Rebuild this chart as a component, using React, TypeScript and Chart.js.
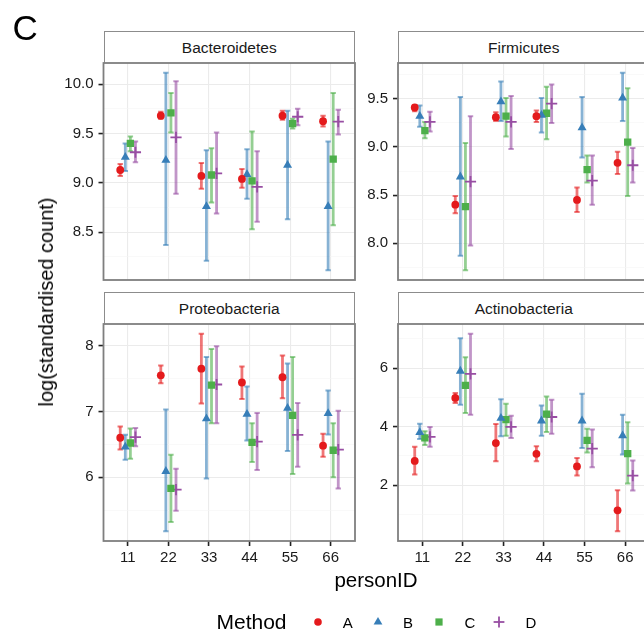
import React, { useEffect, useRef } from 'react';
import { Chart, registerables } from 'chart.js';

Chart.register(...registerables);

const FONT = '"Liberation Sans", Arial, Helvetica, sans-serif';

// ---------- data ----------
const personIDs = [11, 22, 33, 44, 55, 66];
const methods = ['A', 'B', 'C', 'D'];
const methodColors = ['#E41A1C', '#377EB8', '#4DAF4A', '#984EA3'];
const methodBarColors = ['rgba(228,26,28,0.6)', 'rgba(55,126,184,0.6)', 'rgba(77,175,74,0.6)', 'rgba(152,78,163,0.6)'];
const methodShapes = ['circle', 'triangle', 'rect', 'cross'];

// each entry: [estimate, lower, upper] for personIDs 11..66
const bacteroidetesA = [[9.13, 9.07, 9.19], [9.68, 9.65, 9.72], [9.07, 8.94, 9.2], [9.04, 8.95, 9.14], [9.68, 9.64, 9.73], [9.625, 9.57, 9.68]];
const bacteroidetesB = [[9.26, 9.12, 9.4], [9.23, 8.37, 10.115], [8.76, 8.21, 9.33], [9.085, 8.84, 9.34], [9.18, 8.63, 9.73], [8.76, 8.115, 9.42]];
const bacteroidetesC = [[9.4, 9.32, 9.47], [9.71, 9.51, 9.91], [9.08, 8.8, 9.35], [9.02, 8.53, 9.52], [9.6, 9.55, 9.65], [9.24, 8.57, 9.91]];
const bacteroidetesD = [[9.31, 9.21, 9.42], [9.46, 8.89, 10.03], [9.095, 8.69, 9.51], [8.96, 8.605, 9.32], [9.67, 9.585, 9.75], [9.62, 9.49, 9.74]];

const firmicutesA = [[9.41, 9.37, 9.43], [8.4, 8.31, 8.49], [9.31, 9.27, 9.36], [9.32, 9.26, 9.38], [8.45, 8.325, 8.58], [8.835, 8.72, 8.95]];
const firmicutesB = [[9.32, 9.21, 9.43], [8.69, 7.87, 9.52], [9.47, 9.27, 9.68], [9.33, 9.15, 9.51], [9.2, 8.89, 9.52], [9.51, 9.27, 9.77]];
const firmicutesC = [[9.17, 9.09, 9.26], [8.38, 7.72, 9.04], [9.32, 9.11, 9.51], [9.35, 9.08, 9.625], [8.765, 8.63, 8.91], [9.05, 8.49, 9.61]];
const firmicutesD = [[9.26, 9.16, 9.365], [8.64, 7.975, 9.32], [9.26, 8.98, 9.53], [9.45, 9.25, 9.65], [8.65, 8.4, 8.91], [8.81, 8.63, 8.99]];

const proteobacteriaA = [[6.6, 6.42, 6.77], [7.55, 7.43, 7.7], [7.65, 7.12, 8.18], [7.44, 7.19, 7.685], [7.52, 7.2, 7.85], [6.48, 6.31, 6.66]];
const proteobacteriaB = [[6.46, 6.265, 6.645], [6.09, 5.18, 7.03], [6.89, 5.98, 7.83], [6.96, 6.56, 7.38], [7.05, 6.4, 7.73], [6.97, 6.65, 7.32]];
const proteobacteriaC = [[6.52, 6.28, 6.74], [5.83, 5.32, 6.34], [7.4, 6.82, 7.95], [6.53, 6.23, 6.82], [6.94, 6.05, 7.83], [6.41, 6.0, 6.82]];
const proteobacteriaD = [[6.61, 6.47, 6.75], [5.81, 5.49, 6.13], [7.41, 6.82, 7.99], [6.54, 6.11, 6.975], [6.645, 6.16, 7.13], [6.42, 5.83, 7.01]];

const actinobacteriaA = [[2.83, 2.365, 3.31], [4.98, 4.81, 5.15], [3.44, 2.82, 4.09], [3.07, 2.82, 3.33], [2.64, 2.33, 2.93], [1.14, 0.43, 1.83]];
const actinobacteriaB = [[3.8, 3.58, 4.1], [5.9, 4.75, 7.02], [4.29, 3.67, 4.94], [4.2, 3.69, 4.72], [4.2, 3.27, 5.12], [3.69, 3.05, 4.41]];
const actinobacteriaC = [[3.615, 3.37, 3.84], [5.41, 4.47, 6.375], [4.24, 3.69, 4.78], [4.43, 3.82, 5.03], [3.53, 3.12, 3.93], [3.08, 2.06, 4.15]];
const actinobacteriaD = [[3.65, 3.31, 3.99], [5.8, 4.41, 7.17], [3.99, 3.615, 4.375], [4.33, 3.76, 4.92], [3.25, 2.61, 3.9], [2.33, 1.82, 2.84]];

const bacteroidetesTicks = [8.5, 9.0, 9.5, 10.0];
const firmicutesTicks = [8.0, 8.5, 9.0, 9.5];
const proteobacteriaTicks = [6, 7, 8];
const actinobacteriaTicks = [2, 4, 6];

// ---------- layout ----------
const CANVAS_W = 700;
const CANVAS_H = 632;
const Y_AXIS_W = 60;
const X_AXIS_H = 30;
const DODGE = 0.5; // in category units
const CAT_STEP = 11;

type PanelCfg = {
  name: string;
  series: number[][][];
  ticks: number[];
  decimals: number;
  left: number;
  right: number;
  top: number;
  bottom: number;
  showX: boolean;
};

const panels: PanelCfg[] = [
  { name: 'Bacteroidetes', series: [bacteroidetesA, bacteroidetesB, bacteroidetesC, bacteroidetesD], ticks: bacteroidetesTicks, decimals: 1, left: 103.5, right: 355, top: 63, bottom: 280, showX: false },
  { name: 'Firmicutes', series: [firmicutesA, firmicutesB, firmicutesC, firmicutesD], ticks: firmicutesTicks, decimals: 1, left: 398, right: 649.5, top: 63, bottom: 280, showX: false },
  { name: 'Proteobacteria', series: [proteobacteriaA, proteobacteriaB, proteobacteriaC, proteobacteriaD], ticks: proteobacteriaTicks, decimals: 0, left: 103.5, right: 355, top: 324, bottom: 541, showX: true },
  { name: 'Actinobacteria', series: [actinobacteriaA, actinobacteriaB, actinobacteriaC, actinobacteriaD], ticks: actinobacteriaTicks, decimals: 0, left: 398, right: 649.5, top: 324, bottom: 541, showX: true },
];

const borderPlugin = {
  id: 'panelBorder',
  afterDraw(chart: any) {
    const { ctx, chartArea: a } = chart;
    ctx.save();
    ctx.strokeStyle = '#7f7f7f';
    ctx.lineWidth = 1.8;
    ctx.strokeRect(a.left, a.top, a.right - a.left, a.bottom - a.top);
    ctx.restore();
  },
};

function Panel({ cfg }: { cfg: PanelCfg }) {
  const ref = useRef<HTMLCanvasElement>(null);
  useEffect(() => {
    const canvas = ref.current;
    if (!canvas) return;

    let lo = Infinity;
    let hi = -Infinity;
    cfg.series.forEach((s) => s.forEach((t) => { lo = Math.min(lo, t[1]); hi = Math.max(hi, t[2]); }));
    const pad = (hi - lo) * 0.05;
    const yMin = lo - pad;
    const yMax = hi + pad;
    const step = cfg.ticks[1] - cfg.ticks[0];
    const allTicks: number[] = [];
    for (let v = cfg.ticks[0] - step * 4; v <= yMax + 1e-9; v += step / 2) {
      if (v >= yMin - 1e-9) allTicks.push(Math.round(v * 1000) / 1000);
    }
    const isMajor = (v: number) => cfg.ticks.some((t) => Math.abs(t - v) < 1e-6);

    const xMin = personIDs[0] - 0.6 * CAT_STEP;
    const xMax = personIDs[personIDs.length - 1] + 0.6 * CAT_STEP;

    const datasets: any[] = [];
    cfg.series.forEach((s, m) => {
      const off = (-DODGE / 2 + DODGE / 8 + (m * DODGE) / 4) * CAT_STEP;
      const barData: any[] = [];
      const capData: any[] = [];
      const ptData: any[] = [];
      s.forEach((t, i) => {
        const x = personIDs[i] + off;
        barData.push({ x, y: t[1] }, { x, y: t[2] }, { x, y: null });
        capData.push({ x, y: t[1] }, { x, y: t[2] });
        ptData.push({ x, y: t[0] });
      });
      datasets.push({
        type: 'scatter',
        label: methods[m] + ' bar',
        data: barData,
        showLine: true,
        spanGaps: false,
        borderColor: methodBarColors[m],
        borderWidth: 2.8,
        borderCapStyle: 'butt',
        pointRadius: 0,
        order: 3,
      });
      datasets.push({
        type: 'scatter',
        label: methods[m] + ' cap',
        data: capData,
        showLine: false,
        pointStyle: 'line',
        pointRadius: 2.7,
        pointBorderWidth: 2,
        pointBorderColor: methodBarColors[m],
        pointBackgroundColor: methodBarColors[m],
        order: 2,
      });
      const shape = methodShapes[m];
      datasets.push({
        type: 'scatter',
        label: methods[m],
        data: ptData,
        showLine: false,
        pointStyle: shape,
        pointRadius: shape === 'circle' ? 3.9 : shape === 'triangle' ? 5.2 : shape === 'rect' ? 5.2 : 5.6,
        pointBorderWidth: shape === 'cross' ? 1.8 : 0,
        pointBorderColor: methodColors[m],
        pointBackgroundColor: methodColors[m],
        order: 1,
      });
    });

    const tickFont = { family: FONT, size: 15 };

    const chart = new Chart(canvas, {
      type: 'scatter',
      data: { datasets },
      plugins: [borderPlugin],
      options: {
        animation: false,
        responsive: false,
        devicePixelRatio: 1,
        events: [],
        layout: {
          autoPadding: false,
          padding: {
            left: cfg.left - Y_AXIS_W,
            right: CANVAS_W - cfg.right,
            top: cfg.top,
            bottom: CANVAS_H - cfg.bottom - (cfg.showX ? X_AXIS_H : 0),
          },
        },
        plugins: { legend: { display: false }, tooltip: { enabled: false }, title: { display: false } },
        scales: {
          x: {
            type: 'linear',
            min: xMin,
            max: xMax,
            offset: false,
            afterBuildTicks: (s: any) => { s.ticks = personIDs.map((v) => ({ value: v })); },
            afterFit: (s: any) => { s.height = cfg.showX ? X_AXIS_H : 0; },
            ticks: {
              display: cfg.showX,
              autoSkip: false,
              maxRotation: 0,
              color: '#1a1a1a',
              font: tickFont,
              padding: 3,
              callback: (v: any) => String(v),
            },
            grid: {
              color: '#ebebeb',
              lineWidth: 1.1,
              drawTicks: cfg.showX,
              tickLength: 5,
              tickWidth: 1.6,
              tickColor: '#222',
            },
            border: { display: false },
          },
          y: {
            type: 'linear',
            min: yMin,
            max: yMax,
            afterBuildTicks: (s: any) => { s.ticks = allTicks.map((v) => ({ value: v })); },
            afterFit: (s: any) => { s.width = Y_AXIS_W; },
            ticks: {
              autoSkip: false,
              color: '#1a1a1a',
              font: tickFont,
              padding: 5,
              callback: (v: any) => (isMajor(v) ? Number(v).toFixed(cfg.decimals) : ''),
            },
            grid: {
              color: (c: any) => (isMajor(c.tick.value) ? '#ebebeb' : '#f5f5f5'),
              lineWidth: (c: any) => (isMajor(c.tick.value) ? 1.1 : 0.6),
              tickColor: (c: any) => (isMajor(c.tick.value) ? '#222' : 'rgba(0,0,0,0)'),
              tickLength: 5,
              tickWidth: 1.6,
            },
            border: { display: false },
          },
        },
      } as any,
    });
    return () => chart.destroy();
  }, [cfg]);

  return (
    <canvas
      ref={ref}
      width={CANVAS_W}
      height={CANVAS_H}
      style={{ position: 'absolute', left: 0, top: 0, width: CANVAS_W, height: CANVAS_H }}
    />
  );
}

function LegendSymbol({ shape, color, cx }: { shape: string; color: string; cx: number }) {
  const cy = 621.7;
  const size = 14;
  const left = cx - size / 2;
  const top = cy - size / 2;
  const c = size / 2;
  let el: any = null;
  if (shape === 'circle') el = <circle cx={c} cy={c} r={3.8} fill={color} />;
  else if (shape === 'triangle') el = <polygon points={`${c},${c - 5} ${c + 4.4},${c + 2.5} ${c - 4.4},${c + 2.5}`} fill={color} />;
  else if (shape === 'rect') el = <rect x={c - 3.6} y={c - 3.6} width={7.2} height={7.2} fill={color} />;
  else el = (
    <g stroke={color} strokeWidth={1.8}>
      <line x1={c - 5.4} y1={c} x2={c + 5.4} y2={c} />
      <line x1={c} y1={c - 5.4} x2={c} y2={c + 5.4} />
    </g>
  );
  return (
    <svg width={size} height={size} style={{ position: 'absolute', left, top }}>
      {el}
    </svg>
  );
}

const legendSymbolX = [317.7, 377.7, 438.7, 499.3];
const legendLabelX = [347.7, 408, 470, 531];

export default function App() {
  const text = (content: string, style: any) => (
    <div style={{ position: 'absolute', lineHeight: 1, whiteSpace: 'nowrap', color: '#000', ...style }}>{content}</div>
  );
  return (
    <div style={{ position: 'absolute', left: 0, top: 0, width: 644, height: 632, overflow: 'hidden', background: '#fff', fontFamily: FONT }}>
      {panels.map((p) => (
        <React.Fragment key={p.name}>
          <div
            style={{
              position: 'absolute',
              left: p.left,
              top: p.top - 32.5,
              width: p.right - p.left,
              height: 32.5,
              boxSizing: 'border-box',
              border: '1px solid #8c8c8c',
              borderBottom: 'none',
              background: '#fff',
              display: 'flex',
              alignItems: 'center',
              justifyContent: 'center',
              fontSize: 15.5,
              lineHeight: 1,
              color: '#1a1a1a',
            }}
          >
            {p.name}
          </div>
          <Panel cfg={p} />
        </React.Fragment>
      ))}
      {text('C', { left: 12.5, top: 10.4, fontSize: 35 })}
      <div
        style={{
          position: 'absolute',
          left: 46,
          top: 302,
          fontSize: 20,
          lineHeight: 1,
          whiteSpace: 'nowrap',
          transform: 'translate(-50%, -50%) rotate(-90deg)',
          color: '#000',
        }}
      >
        log(standardised count)
      </div>
      <div
        style={{
          position: 'absolute',
          left: 376,
          top: 580,
          fontSize: 20.5,
          lineHeight: 1,
          whiteSpace: 'nowrap',
          transform: 'translate(-50%, -50%)',
          color: '#000',
        }}
      >
        personID
      </div>
      {text('Method', { left: 216.5, top: 621.7 - 10.5, fontSize: 21 })}
      {methods.map((m, i) => (
        <React.Fragment key={m}>
          <LegendSymbol shape={methodShapes[i]} color={methodColors[i]} cx={legendSymbolX[i]} />
          <div
            style={{
              position: 'absolute',
              left: legendLabelX[i],
              top: 621.7,
              fontSize: 15,
              lineHeight: 1,
              transform: 'translate(-50%, -50%)',
              color: '#000',
            }}
          >
            {m}
          </div>
        </React.Fragment>
      ))}
    </div>
  );
}
